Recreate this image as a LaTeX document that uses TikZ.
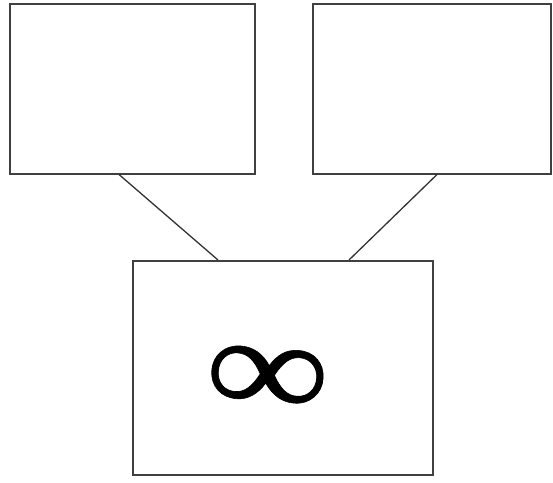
\documentclass[tikz,border=0pt]{standalone}
\usepackage{fontspec}
\newfontfamily\symfont[FakeBold=0.4]{Liberation Serif}
\begin{document}
\begin{tikzpicture}[x=1pt,y=-1pt,
  box/.style={draw=black!75,line width=2pt,fill=white,inner sep=0pt},
  link/.style={draw=black!80,line width=1.3pt}]
\useasboundingbox (0,0) rectangle (553,482);
\node[box,minimum width=245pt,minimum height=170pt] (a) at (132.5,88.5) {};
\node[box,minimum width=238pt,minimum height=170pt] (b) at (432,88.5) {};
\node[box,minimum width=300pt,minimum height=214pt] (c) at (283,368) {};
\draw[link] ([xshift=-13.5pt]a.south) -- ([xshift=-65pt]c.north);
\draw[link] ([xshift=5pt]b.south) -- ([xshift=66pt]c.north);
\node[inner sep=0pt,transform shape,rotate=-4,yscale=0.8] (inf) at (267,381.5) {\symfont\fontsize{175}{175}\selectfont ∞};
\end{tikzpicture}
\end{document}
